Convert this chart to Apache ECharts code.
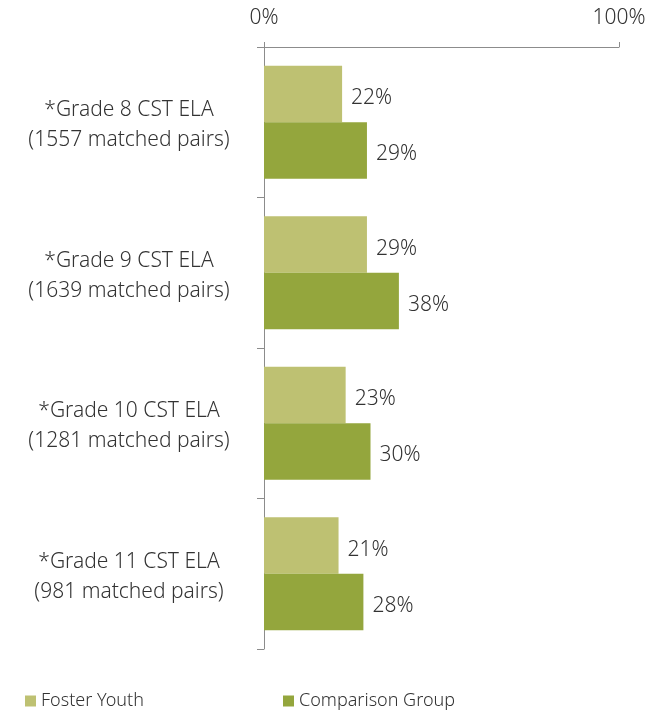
<!DOCTYPE html>
<html>
<head>
<meta charset="utf-8">
<script src="https://cdn.jsdelivr.net/npm/echarts@6/dist/echarts.min.js"></script>
<style>
html,body{margin:0;padding:0;background:#fff;}
#chart{width:664px;height:711px;}
</style>
</head>
<body>
<div id="chart"></div>
<script>
var categories = ['*Grade 8 CST ELA\n(1557 matched pairs)', '*Grade 9 CST ELA\n(1639 matched pairs)', '*Grade 10 CST ELA\n(1281 matched pairs)', '*Grade 11 CST ELA\n(981 matched pairs)'];
var seriesNames = ['Foster Youth', 'Comparison Group'];
var fosterYouth = [22, 29, 23, 21];
var comparisonGroup = [29, 38, 30, 28];
var axisMin = 0, axisMax = 100, axisInterval = 100;

var FONT = '"Noto Sans", sans-serif';
var FW = 300;
var TXT = '#333333';
var chart = echarts.init(document.getElementById('chart'));
var labelCfg = {
  show: true, position: 'right', distance: 9, offset: [0, 4],
  formatter: '{c}%', color: TXT, fontFamily: FONT, fontSize: 21, fontWeight: FW
};
var legendText = {color: TXT, fontSize: 18, fontFamily: FONT, fontWeight: FW};
var catText = {color: TXT, fontSize: 21, fontFamily: FONT, fontWeight: FW, lineHeight: 30, align: 'center'};
chart.setOption({
  animation: false,
  textStyle: {fontFamily: FONT},
  grid: {left: 264, top: 47, right: 45, bottom: 62, containLabel: false},
  legend: [
    {data: [seriesNames[0]], top: 692, left: 25, padding: 0, itemWidth: 11, itemHeight: 11, itemGap: 5, icon: 'rect', textStyle: legendText},
    {data: [seriesNames[1]], top: 692, left: 283, padding: 0, itemWidth: 11, itemHeight: 11, itemGap: 5, icon: 'rect', textStyle: legendText}
  ],
  xAxis: {
    type: 'value', position: 'top',
    min: axisMin, max: axisMax, interval: axisInterval,
    axisLine: {show: true, lineStyle: {color: '#8c8c8c', width: 1}},
    axisTick: {show: true, length: 5, lineStyle: {color: '#8c8c8c'}},
    splitLine: {show: false},
    axisLabel: {formatter: '{value}%', color: TXT, fontSize: 21, fontFamily: FONT, fontWeight: FW, margin: 18}
  },
  yAxis: {
    type: 'category', inverse: true, data: categories,
    axisLine: {show: true, lineStyle: {color: '#8c8c8c', width: 1}},
    axisTick: {show: true, length: 7, lineStyle: {color: '#8c8c8c'}},
    axisLabel: {
      color: TXT, fontSize: 21, fontFamily: FONT, fontWeight: FW, align: 'center', margin: 135, lineHeight: 30,
      formatter: function (v) {
        var parts = v.split('\n');
        return '{s| }\n{l1|' + parts[0] + '}\n{l2|' + parts[1] + '}';
      },
      rich: {
        s: {fontSize: 1, lineHeight: 6},
        l1: Object.assign({}, catText),
        l2: Object.assign({}, catText)
      }
    }
  },
  series: [
    {name: seriesNames[0], type: 'bar', data: fosterYouth, barCategoryGap: '25%', barGap: '0%',
     itemStyle: {color: '#bec172'}, label: labelCfg},
    {name: seriesNames[1], type: 'bar', data: comparisonGroup, barCategoryGap: '25%', barGap: '0%',
     itemStyle: {color: '#94a63d'}, label: labelCfg}
  ]
});
</script>
</body>
</html>
